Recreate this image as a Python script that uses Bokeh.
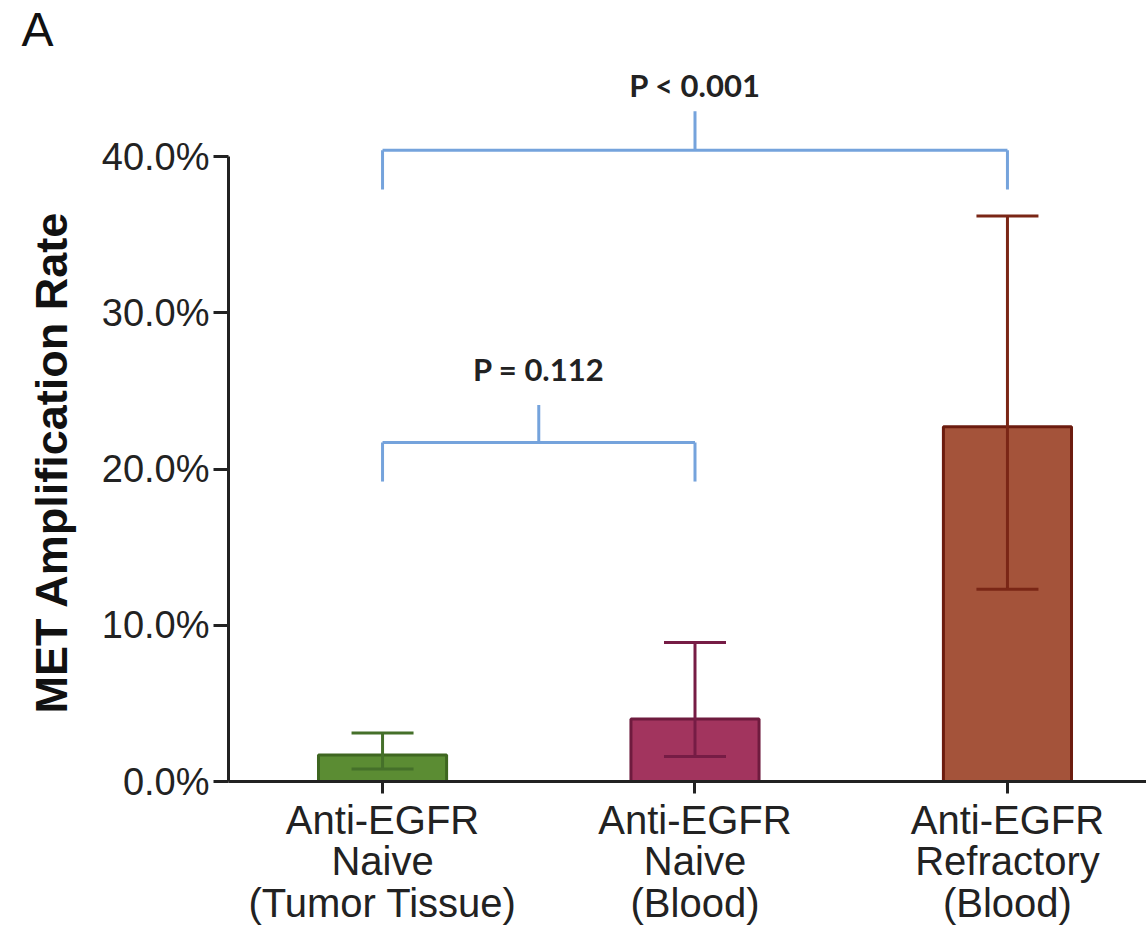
from bokeh.plotting import figure
from bokeh.models import ColumnDataSource, FixedTicker, PrintfTickFormatter, Range1d
from bokeh.embed import file_html
from bokeh.resources import INLINE
from bokeh.core.properties import value

# ---- data ----
categories = ["Anti-EGFR\nNaive\n(Tumor Tissue)", "Anti-EGFR\nNaive\n(Blood)", "Anti-EGFR\nRefractory\n(Blood)"]
positions = [1, 2, 3]
rates = [1.7, 4.0, 22.7]
ci_lower = [0.8, 1.6, 12.3]
ci_upper = [3.1, 8.9, 36.2]
fill_colors = ["#5b8c33", "#a2345e", "#a4533a"]
edge_colors = ["#3e6620", "#6e1b3e", "#6c1c0f"]
err_colors = ["#45702a", "#761c45", "#7a2616"]
y_ticks = [0, 10, 20, 30, 40]
y_label = "MET Amplification Rate"

cmp_left = [1, 1]
cmp_right = [2, 3]
cmp_bar_y = [21.7, 40.4]
cmp_leg_y = [19.2, 37.9]
cmp_stem_y = [24.1, 42.9]
cmp_label_y = [26.4, 44.6]
cmp_labels = ["P = 0.112", "P < 0.001"]

# ---- figure ----
FONT = "Liberation Sans"
p = figure(width=1146, height=933, output_backend="svg", toolbar_location=None,
           x_range=Range1d(0.507, 3.445), y_range=Range1d(0, 46.47),
           min_border_left=228, min_border_right=0, min_border_bottom=152, min_border_top=0)
p.outline_line_color = None
p.xgrid.visible = False
p.ygrid.visible = False
p.background_fill_color = "white"

p.title.text = "A"
p.title.text_font = FONT
p.title.text_font_size = "48px"
p.title.text_font_style = "normal"
p.title.text_color = "#111111"
p.title.align = "left"
p.title.offset = -207
p.title.standoff = 0

src = ColumnDataSource(dict(x=positions, rate=rates, lo=ci_lower, hi=ci_upper,
                            fill=fill_colors, edge=edge_colors, err=err_colors))
p.vbar(x="x", top="rate", width=0.41, bottom=0, fill_color="fill", line_color="edge",
       line_width=3, source=src)
p.segment(x0="x", y0="lo", x1="x", y1="hi", line_color="err", line_width=3, source=src)
p.scatter(x="x", y="hi", marker="dash", size=62, line_color="err", line_width=3, source=src)
p.scatter(x="x", y="lo", marker="dash", size=62, line_color="err", line_width=3, source=src)

cmp_mid = [(a + b) / 2 for a, b in zip(cmp_left, cmp_right)]
bsrc = ColumnDataSource(dict(l=cmp_left, r=cmp_right, m=cmp_mid, by=cmp_bar_y, ly=cmp_leg_y,
                             sy=cmp_stem_y, ty=cmp_label_y, t=cmp_labels))
BLUE = "#75a3dc"
p.segment(x0="l", y0="by", x1="r", y1="by", line_color=BLUE, line_width=3, source=bsrc)
p.segment(x0="l", y0="ly", x1="l", y1="by", line_color=BLUE, line_width=3, source=bsrc)
p.segment(x0="r", y0="ly", x1="r", y1="by", line_color=BLUE, line_width=3, source=bsrc)
p.segment(x0="m", y0="by", x1="m", y1="sy", line_color=BLUE, line_width=3, source=bsrc)
p.text(x="m", y="ty", text="t", source=bsrc, text_font=value("Lato"), text_font_style="bold",
       text_font_size="31px", text_align="center", text_baseline="middle", text_color="#222222")

# axes
xa = p.xaxis[0]
xa.ticker = FixedTicker(ticks=positions)
xa.major_label_overrides = {pos: lab for pos, lab in zip(positions, categories)}
xa.major_label_text_font = FONT
xa.major_label_text_font_size = "40px"
xa.major_label_text_line_height = 0.95
xa.major_label_text_color = "#222222"
xa.major_label_standoff = 4
xa.major_tick_out = 12
xa.major_tick_in = 0
xa.minor_tick_line_color = None
xa.axis_line_width = 3
xa.major_tick_line_width = 3
xa.axis_line_color = "#222222"
xa.major_tick_line_color = "#222222"

ya = p.yaxis[0]
ya.ticker = FixedTicker(ticks=y_ticks)
ya.formatter = PrintfTickFormatter(format="%.1f%%")
ya.bounds = (0, 40)
ya.major_label_text_font = FONT
ya.major_label_text_font_size = "38px"
ya.major_label_text_color = "#222222"
ya.major_label_standoff = 4
ya.major_tick_out = 15
ya.major_tick_in = 0
ya.minor_tick_line_color = None
ya.axis_line_width = 3
ya.major_tick_line_width = 3
ya.axis_line_color = "#222222"
ya.major_tick_line_color = "#222222"
# trailing no-break spaces centre the label on the 0-40% span, as in the original
ya.axis_label = y_label + "\u00a0" * 7
ya.axis_label_text_font = FONT
ya.axis_label_text_font_style = "bold"
ya.axis_label_text_font_size = "45px"
ya.axis_label_text_color = "#111111"
ya.axis_label_standoff = 22

open("out.html", "w").write(file_html(p, INLINE))
